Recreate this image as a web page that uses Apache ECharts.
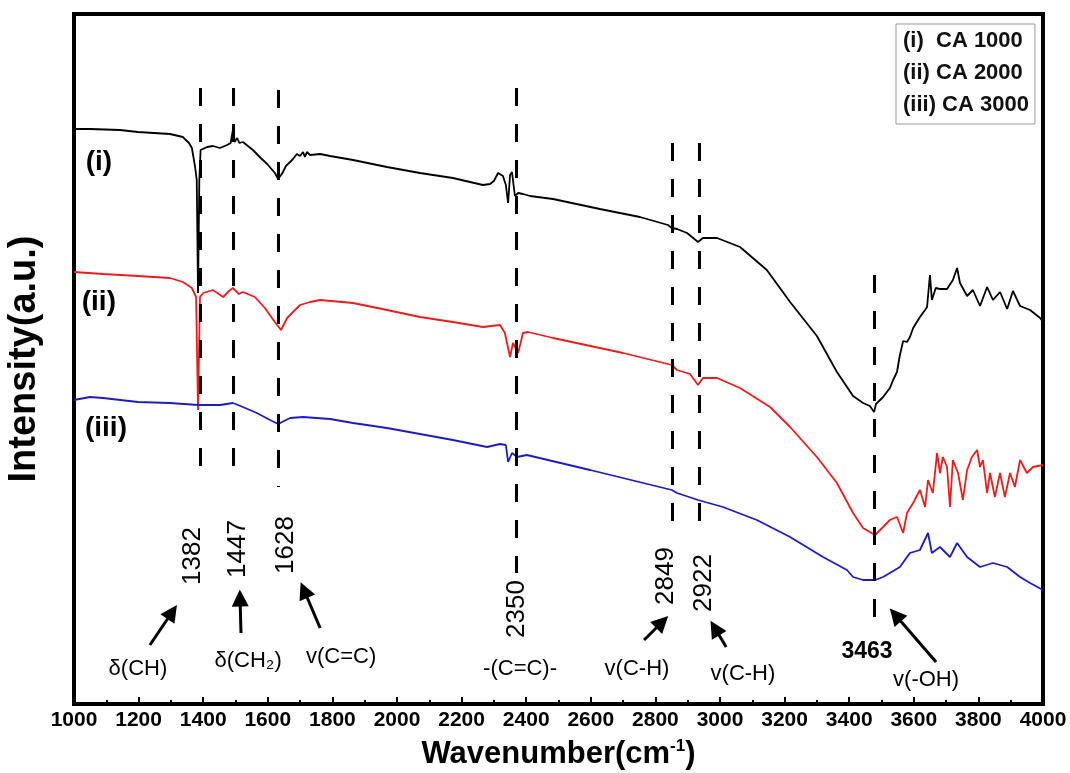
<!DOCTYPE html>
<html>
<head>
<meta charset="utf-8">
<script src="https://cdn.jsdelivr.net/npm/echarts@6/dist/echarts.min.js"></script>
<style>
  html, body { margin: 0; background: #fff; }
  #chart { width: 1070px; height: 773px; }
</style>
</head>
<body>
<div id="chart"></div>
<script>
// legend names and curve tags
const seriesNames = ['(i)  CA 1000', '(ii) CA 2000', '(iii) CA 3000'];
const curveTags = ['(i)', '(ii)', '(iii)'];

// [wavenumber cm-1, intensity a.u.]
const spectrumI = [[1000,575],[1050,575],[1142,574],[1198,572],[1297,570],[1337,567],[1356,561],[1365,556],[1375,537],[1380,524],[1384,411],[1388,524],[1392,554],[1412,557],[1430,558],[1452,556],[1474,559],[1485,561],[1492,574],[1497,562],[1505,566],[1512,561],[1523,562],[1554,554],[1575,547],[1598,540],[1622,531],[1632,525],[1641,529],[1647,532],[1656,538],[1669,542],[1678,545],[1690,550],[1700,548],[1709,552],[1715,547],[1721,552],[1731,549],[1762,550],[1793,548],[1864,544],[1969,537],[2071,531],[2173,526],[2266,519],[2288,520],[2300,523],[2313,531],[2328,528],[2337,519],[2344,501],[2350,529],[2356,532],[2365,508],[2375,511],[2390,510],[2412,508],[2483,505],[2628,495],[2752,487],[2839,479],[2851,476],[2867,475],[2898,471],[2932,462],[2947,466],[2991,466],[3062,457],[3145,434],[3217,402],[3300,368],[3362,332],[3412,308],[3443,301],[3464,298],[3477,292],[3483,300],[3505,307],[3526,316],[3536,324],[3548,332],[3557,349],[3567,363],[3579,362],[3588,367],[3598,376],[3619,387],[3635,394],[3641,397],[3650,429],[3656,404],[3668,416],[3681,415],[3703,415],[3721,424],[3734,436],[3743,421],[3765,408],[3783,414],[3805,398],[3827,417],[3845,404],[3867,412],[3889,395],[3907,413],[3929,398],[3960,394],[3991,386],[4000,382]];

const spectrumII = [[1000,432],[1090,430],[1198,428],[1297,426],[1337,422],[1365,416],[1378,407],[1384,294],[1390,407],[1400,411],[1430,414],[1462,407],[1480,413],[1492,416],[1510,410],[1523,412],[1560,407],[1591,396],[1622,382],[1641,374],[1647,373],[1660,386],[1678,392],[1700,399],[1731,402],[1762,404],[1864,401],[1969,394],[2071,387],[2173,382],[2266,377],[2319,379],[2334,371],[2350,347],[2359,361],[2375,351],[2390,371],[2406,372],[2483,366],[2628,356],[2700,351],[2851,339],[2867,334],[2907,330],[2932,319],[2947,326],[2991,326],[3062,316],[3155,297],[3217,277],[3300,247],[3362,221],[3412,191],[3443,176],[3464,172],[3480,169],[3505,177],[3526,184],[3548,187],[3567,171],[3579,191],[3598,201],[3619,214],[3635,197],[3644,224],[3659,211],[3672,251],[3681,231],[3690,247],[3703,237],[3712,197],[3721,244],[3737,231],[3752,204],[3765,234],[3780,247],[3796,254],[3805,237],[3814,244],[3827,211],[3836,231],[3851,207],[3867,231],[3882,207],[3898,231],[3913,217],[3929,244],[3950,231],[3969,237],[4000,239]];

const spectrumIII = [[1000,304],[1050,307],[1090,306],[1198,302],[1297,301],[1384,299],[1452,299],[1492,301],[1523,297],[1566,291],[1607,284],[1632,280],[1669,286],[1709,287],[1793,285],[1864,281],[1969,276],[2173,264],[2279,257],[2319,260],[2337,259],[2344,242],[2356,251],[2372,247],[2402,249],[2598,234],[2851,214],[2867,211],[2932,204],[3009,197],[3114,184],[3217,167],[3319,147],[3393,134],[3412,127],[3443,124],[3480,124],[3505,127],[3557,137],[3588,151],[3619,154],[3644,171],[3656,151],[3681,157],[3712,147],[3734,161],[3765,147],[3805,137],[3845,141],[3889,137],[3929,127],[3960,121],[4000,114]];

const peakLabels = ['1382', '1447', '1628', '2350', '2849', '2922', '3463'];
const bondLabels = ['δ(CH)', 'δ(CH₂)', 'v(C=C)', '-(C=C)-', 'v(C-H)', 'v(C-H)', 'v(-OH)'];

const SANS = "'Liberation Sans', Arial, sans-serif";

const chart = echarts.init(document.getElementById('chart'));

// dashed guide lines: x, top, bottom
const guides = [[1390, 616, 221], [1492, 616, 221], [1632, 614, 217], [2368, 616, 131],
  [2851, 561, 173], [2935, 561, 173], [3477, 429, 73]];
// arrows: from -> to
const arrows = [[1235, 59, 1304, 92], [1517, 71, 1514, 106], [1762, 76, 1712, 114],
  [2765, 64, 2821, 82], [3019, 57, 2984, 76], [3669, 42, 3543, 89]];

const textItem = (x, y, text, style) => ({
  value: [x, y],
  label: Object.assign({ formatter: text, color: '#000' }, style)
});
const rotNum = { rotate: 90, fontSize: 26, fontFamily: SANS };
const bond = { fontSize: 22, fontFamily: SANS };
const tag = { fontSize: 28, fontWeight: 'bold', fontFamily: SANS };

const notes = [
  textItem(1077, 542, curveTags[0], tag),
  textItem(1077, 402, curveTags[1], tag),
  textItem(1099, 276, curveTags[2], tag),
  textItem(1368, 148, peakLabels[0], rotNum),
  textItem(1508, 155, peakLabels[1], rotNum),
  textItem(1656, 159, peakLabels[2], rotNum),
  textItem(2372, 95, peakLabels[3], rotNum),
  textItem(2833, 128, peakLabels[4], rotNum),
  textItem(2950, 121, peakLabels[5], rotNum),
  textItem(3455, 52, peakLabels[6], { fontSize: 23, fontWeight: 'bold', fontFamily: SANS }),
  textItem(1198, 35, bondLabels[0], bond),
  textItem(1539, 43, bondLabels[1], bond),
  textItem(1827, 47, bondLabels[2], bond),
  textItem(2381, 35, bondLabels[3], bond),
  textItem(2743, 35, bondLabels[4], bond),
  textItem(3071, 30, bondLabels[5], bond),
  textItem(3638, 24, bondLabels[6], bond)
];

const lineSeries = (name, data, color) => ({
  name: name,
  type: 'line',
  data: data,
  showSymbol: false,
  symbol: 'none',
  lineStyle: { color: color, width: 1.8 },
  itemStyle: { color: color },
  z: 3
});

const option = {
  animation: false,
  backgroundColor: '#fff',
  grid: {
    left: 74, right: 27, top: 14, bottom: 69,
    outerBoundsMode: 'none',
    containLabel: false,
    show: true, borderColor: '#000', borderWidth: 4
  },
  legend: {
    data: seriesNames,
    orient: 'vertical',
    left: 896,
    top: 24,
    icon: 'none',
    itemWidth: 0,
    itemGap: 6,
    padding: [4, 6, 6, 2],
    borderColor: '#999',
    borderWidth: 1,
    selectedMode: false,
    textStyle: { color: '#111', fontSize: 22, fontWeight: 'bold', fontFamily: SANS, lineHeight: 26 }
  },
  xAxis: {
    type: 'value',
    min: 1000,
    max: 4000,
    interval: 200,
    name: '{t|Wavenumber(cm}{s|-1}{t|)}',
    nameLocation: 'middle',
    nameGap: 34,
    nameTextStyle: {
      rich: {
        t: { fontSize: 31, fontWeight: 'bold', fontFamily: SANS, color: '#000' },
        s: { fontSize: 17, fontWeight: 'bold', fontFamily: SANS, color: '#000', padding: [0, 0, 16, 0] }
      }
    },
    axisLine: { lineStyle: { color: '#000', width: 4 } },
    axisTick: { inside: true, length: 7, lineStyle: { color: '#000', width: 2 } },
    minorTick: { show: true, splitNumber: 2, length: 4, lineStyle: { color: '#000', width: 2 } },
    axisLabel: {
      color: '#000', fontSize: 21, fontWeight: 'bold', fontFamily: SANS, margin: 6,
      formatter: (v) => String(v)
    },
    splitLine: { show: false }
  },
  yAxis: {
    type: 'value',
    min: 0,
    max: 690,
    name: 'Intensity(a.u.)',
    nameLocation: 'middle',
    nameGap: 30,
    nameTextStyle: { fontSize: 38, fontWeight: 'bold', fontFamily: SANS, color: '#000' },
    axisLine: { show: true, lineStyle: { color: '#000', width: 4 } },
    axisTick: { show: false },
    axisLabel: { show: false },
    splitLine: { show: false }
  },
  series: [
    lineSeries(seriesNames[0], spectrumI, '#000000'),
    lineSeries(seriesNames[1], spectrumII, '#ec1c1c'),
    lineSeries(seriesNames[2], spectrumIII, '#1c1cc0'),
    {
      name: 'guides',
      type: 'line',
      data: [],
      z: 4,
      markLine: {
        silent: true,
        symbol: 'none',
        label: { show: false },
        lineStyle: { color: '#000', width: 3, type: [18, 18] },
        data: guides.map(([x, y1, y2]) => [{ coord: [x, y1] }, { coord: [x, y2] }])
      }
    },
    {
      name: 'arrows',
      type: 'line',
      data: [],
      z: 4,
      markLine: {
        silent: true,
        symbol: ['none', 'triangle'],
        symbolSize: 17,
        label: { show: false },
        lineStyle: { color: '#000', width: 3, type: 'solid' },
        data: arrows.map(([x1, y1, x2, y2]) => [{ coord: [x1, y1] }, { coord: [x2, y2] }])
      }
    },
    {
      name: 'notes',
      type: 'scatter',
      symbolSize: 0,
      silent: true,
      z: 5,
      itemStyle: { opacity: 1 },
      label: { show: true, position: 'inside', align: 'center', verticalAlign: 'middle', color: '#000' },
      data: notes
    }
  ]
};

chart.setOption(option);
</script>
</body>
</html>
